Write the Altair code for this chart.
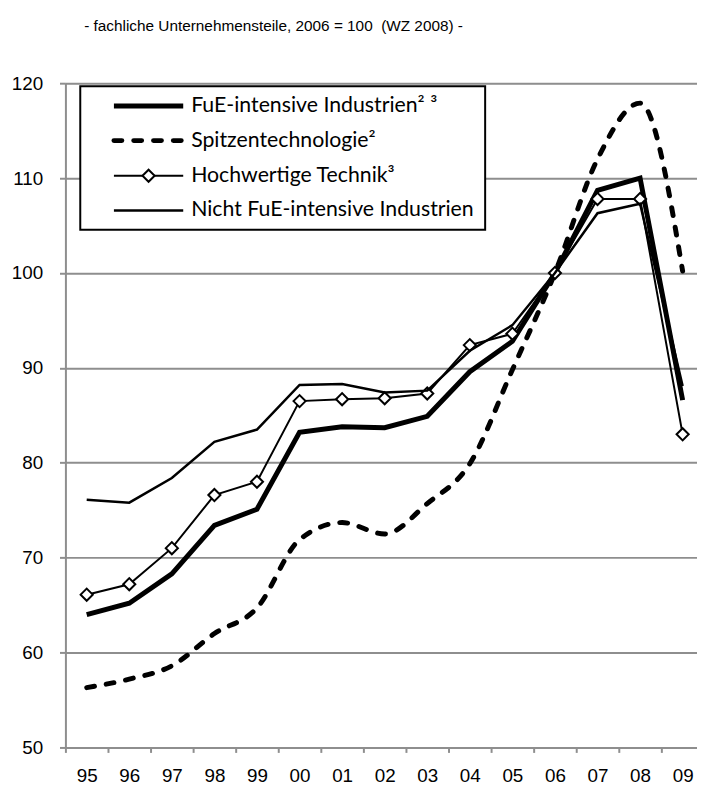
import json
import altair as alt
import pandas as pd

# ---- data ----
years = ["95", "96", "97", "98", "99", "00", "01", "02", "03", "04", "05", "06", "07", "08", "09"]
fue_intensiv = [64.0, 65.2, 68.3, 73.4, 75.1, 83.2, 83.8, 83.7, 84.9, 89.6, 92.8, 100.0, 108.7, 110.0, 86.6]
spitzen = [56.3, 57.2, 58.6, 62.0, 64.7, 71.9, 73.7, 72.5, 75.7, 79.9, 89.8, 100.0, 112.0, 117.9, 100.2]
hochwertig = [66.1, 67.2, 71.0, 76.6, 78.0, 86.5, 86.7, 86.8, 87.3, 92.4, 93.6, 100.0, 107.8, 107.8, 83.0]
nicht_fue = [76.1, 75.8, 78.4, 82.2, 83.5, 88.2, 88.3, 87.4, 87.6, 91.8, 94.5, 100.0, 106.3, 107.3, 88.1]

names = [
    "FuE-intensive Industrien\u00b2 \u00b3",
    "Spitzentechnologie\u00b2",
    "Hochwertige Technik\u00b3",
    "Nicht FuE-intensive Industrien",
]
title_text = "- fachliche Unternehmensteile, 2006 = 100 \u00a0(WZ 2008) -"
y_ticks = [50, 60, 70, 80, 90, 100, 110, 120]

GRID = "#8e8e8e"
W, H = 638, 671
BAND = 43.0
x_max = W / BAND - 0.5

def frame(vals):
    return pd.DataFrame({"idx": list(range(len(years))), "year": years, "value": vals})

label_expr = json.dumps(years) + "[datum.value]"

x_enc = alt.X(
    "idx:Q",
    scale=alt.Scale(domain=[-0.5, x_max], nice=False, zero=False),
    axis=alt.Axis(
        values=list(range(len(years))),
        labelExpr=label_expr,
        tickOffset=-BAND / 2,
        labelOffset=BAND / 2,
        labelFlush=False,
        labelOverlap=False,
        grid=False,
        domainColor=GRID,
        domainWidth=2,
        tickColor=GRID,
        tickWidth=2,
        tickSize=5,
        labelFont="Liberation Sans",
        labelFontSize=19,
        labelColor="black",
        labelPadding=14,
        title=None,
    ),
)
y_enc = alt.Y(
    "value:Q",
    scale=alt.Scale(domain=[50, 120], nice=False, zero=False),
    axis=alt.Axis(
        values=y_ticks,
        grid=True,
        gridColor=GRID,
        gridWidth=2,
        domainColor=GRID,
        domainWidth=2,
        tickColor=GRID,
        tickWidth=2,
        tickSize=6,
        labelFont="Liberation Sans",
        labelFontSize=19,
        labelColor="black",
        labelPadding=17,
        title=None,
    ),
)

l_fue = alt.Chart(frame(fue_intensiv)).mark_line(
    color="black", strokeWidth=5, strokeJoin="miter"
).encode(x=x_enc, y=y_enc)

l_spitzen = alt.Chart(frame(spitzen)).mark_line(
    color="black", strokeWidth=5, strokeDash=[8, 12], strokeCap="round",
    interpolate="monotone"
).encode(x=x_enc, y=y_enc)

l_hoch = alt.Chart(frame(hochwertig)).mark_line(
    color="black", strokeWidth=2
).encode(x=x_enc, y=y_enc)

p_hoch = alt.Chart(frame(hochwertig)).mark_point(
    shape="diamond", filled=True, fill="white", stroke="black", strokeWidth=2,
    size=150, opacity=1
).encode(x=x_enc, y=y_enc)

l_nicht = alt.Chart(frame(nicht_fue)).mark_line(
    color="black", strokeWidth=2.5
).encode(x=x_enc, y=y_enc)

# ---- legend box ----
one = pd.DataFrame({"a": [0]})
leg_box = alt.Chart(one).mark_rect(
    fill="white", stroke="black", strokeWidth=2
).encode(x=alt.value(15), x2=alt.value(424), y=alt.value(3), y2=alt.value(148))

rows = [23, 58, 93.5, 128.5]
styles = [
    dict(strokeWidth=5),
    dict(strokeWidth=5, strokeDash=[8, 12], strokeCap="round"),
    dict(strokeWidth=2),
    dict(strokeWidth=2.5),
]
legend_layers = [leg_box]
for name, yr, st in zip(names, rows, styles):
    ldf = pd.DataFrame({"label": [name]})
    legend_layers.append(
        alt.Chart(ldf).mark_rule(color="black", **st).encode(
            x=alt.value(49), x2=alt.value(119), y=alt.value(yr)
        )
    )
    legend_layers.append(
        alt.Chart(ldf).mark_text(
            align="left", baseline="middle", font="Lato", fontSize=21.5, color="black"
        ).encode(x=alt.value(127), y=alt.value(yr), text="label:N")
    )
legend_layers.append(
    alt.Chart(pd.DataFrame({"label": [names[2]]})).mark_point(
        shape="diamond", filled=True, fill="white", stroke="black", strokeWidth=2,
        size=150, opacity=1
    ).encode(x=alt.value(84), y=alt.value(rows[2]))
)

chart = alt.layer(
    l_fue, l_spitzen, l_hoch, p_hoch, l_nicht, *legend_layers
).properties(
    width=W,
    height=H,
    title=alt.TitleParams(
        title_text,
        anchor="start",
        frame="group",
        dx=19,
        font="Liberation Sans",
        fontSize=15.5,
        fontWeight="normal",
        color="black",
        offset=40,
    ),
    autosize=alt.AutoSizeParams(type="none"),
    padding={"left": 58, "top": 72, "right": 0, "bottom": 37},
).configure_view(stroke=None).configure(background="white")

chart.save("out.html", embed_options={"renderer": "svg", "actions": False})
